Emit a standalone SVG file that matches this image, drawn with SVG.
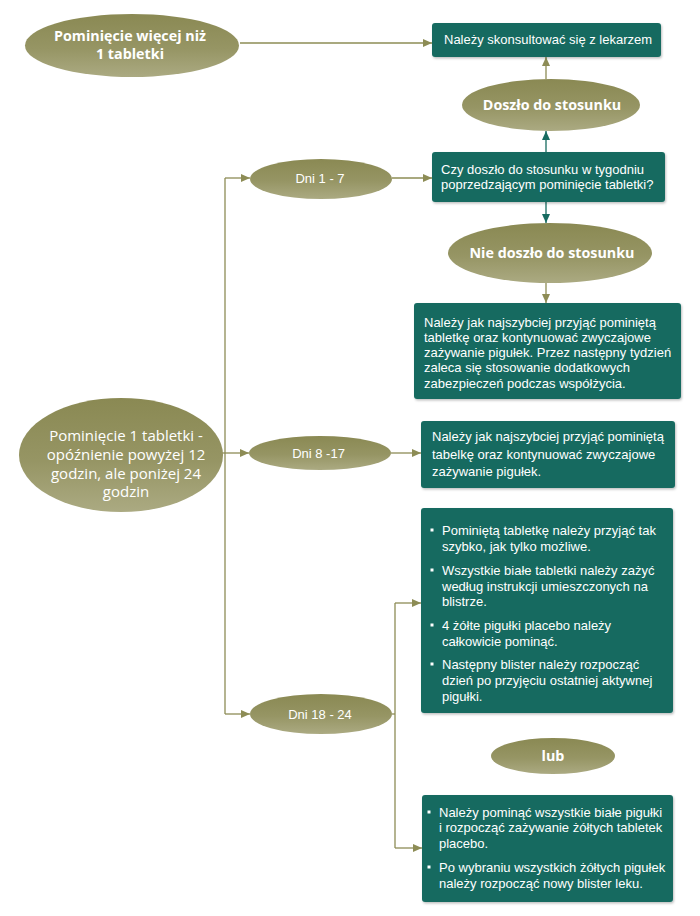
<svg xmlns="http://www.w3.org/2000/svg" width="700" height="916" viewBox="0 0 700 916">
<style>
.ell{fill:url(#olive)}
.box{fill:#176b60;filter:url(#sh)}
.tb{font-family:"Open Sans","DejaVu Sans",sans-serif;font-weight:bold;font-size:14.3px;fill:#fff;text-anchor:middle}
.tr{font-family:"Open Sans","DejaVu Sans",sans-serif;font-size:15px;fill:#fff;text-anchor:middle}
.td{font-family:"Liberation Sans",Arial,sans-serif;font-size:13px;fill:#fff;text-anchor:middle}
.t{font-family:"Liberation Sans",Arial,sans-serif;font-size:13px;fill:#fff}
.bul{fill:#fff}
.c{fill:none;stroke:#8d8c55;stroke-width:1.3}
.ct{fill:none;stroke:#176b60;stroke-width:1.3}
</style>
<defs>
<linearGradient id="olive" x1="0" y1="0" x2="0" y2="1">
<stop offset="0" stop-color="#8a8953"/>
<stop offset="0.55" stop-color="#969564"/>
<stop offset="1" stop-color="#abaa82"/>
</linearGradient>
<filter id="sh" x="-5%" y="-5%" width="110%" height="115%">
<feDropShadow dx="1" dy="1.5" stdDeviation="1.2" flood-color="#000" flood-opacity="0.25"/>
</filter>
<marker id="ao" markerUnits="userSpaceOnUse" markerWidth="9" markerHeight="8" refX="9" refY="4" orient="auto">
<path d="M0,0 L9,4 L0,8 z" fill="#8d8c55"/>
</marker>
<marker id="at" markerUnits="userSpaceOnUse" markerWidth="9" markerHeight="8" refX="9" refY="4" orient="auto">
<path d="M0,0 L9,4 L0,8 z" fill="#176b60"/>
</marker>
</defs>

<g id="connectors">
<path class="c" d="M240,43 H432" marker-end="url(#ao)"/>
<path class="c" d="M546,79 V57" marker-end="url(#ao)"/>
<path class="ct" d="M546,152 V131" marker-end="url(#at)"/>
<path class="ct" d="M546,202 V223" marker-end="url(#at)"/>
<path class="c" d="M546,283 V303" marker-end="url(#ao)"/>
<path class="c" d="M392,178 H432" marker-end="url(#ao)"/>
<path class="c" d="M225,178 V714"/>
<path class="c" d="M222,453 H225"/>
<path class="c" d="M225,178 H250" marker-end="url(#ao)"/>
<path class="c" d="M225,453 H249" marker-end="url(#ao)"/>
<path class="c" d="M225,714 H250" marker-end="url(#ao)"/>
<path class="c" d="M391,453 H421" marker-end="url(#ao)"/>
<path class="c" d="M392,714 H395"/>
<path class="c" d="M395,603 V848"/>
<path class="c" d="M395,603 H421" marker-end="url(#ao)"/>
<path class="c" d="M395,848 H422" marker-end="url(#ao)"/>
</g>

<g id="n-wiecej">
<ellipse class="ell" cx="132" cy="45.5" rx="107" ry="31.5"/>
<text class="tb" x="130" y="41">Pominięcie więcej niż</text>
<text class="tb" x="130" y="59">1 tabletki</text>
</g>

<g id="n-lekarz">
<rect class="box" x="432" y="23" width="229" height="34" rx="3"/>
<text class="t" x="444" y="43.5">Należy skonsultować się z lekarzem</text>
</g>

<g id="n-doszlo">
<ellipse class="ell" cx="551" cy="105" rx="89" ry="26"/>
<text class="tb" x="552" y="110">Doszło do stosunku</text>
</g>

<g id="n-pytanie">
<rect class="box" x="432" y="152" width="233" height="50" rx="3"/>
<text class="t" x="441" y="173.5">Czy doszło do stosunku w tygodniu</text>
<text class="t" x="441" y="188.5">poprzedzającym pominięcie tabletki?</text>
</g>

<g id="n-niedoszlo">
<ellipse class="ell" cx="550" cy="253" rx="102" ry="30"/>
<text class="tb" x="552" y="258">Nie doszło do stosunku</text>
</g>

<g id="n-box3">
<rect class="box" x="414" y="303" width="267" height="96" rx="3"/>
<text class="t" x="424" y="326.5">Należy jak najszybciej przyjąć pominiętą</text>
<text class="t" x="424" y="341.5">tabletkę oraz kontynuować zwyczajowe</text>
<text class="t" x="424" y="357">zażywanie pigułek. Przez następny tydzień</text>
<text class="t" x="424" y="372">zaleca się stosowanie dodatkowych</text>
<text class="t" x="424" y="387.5">zabezpieczeń podczas współżycia.</text>
</g>

<g id="n-dni17">
<ellipse class="ell" cx="321" cy="179" rx="71" ry="20"/>
<text class="td" x="320" y="183">Dni 1 - 7</text>
</g>

<g id="n-main">
<ellipse class="ell" cx="121" cy="455" rx="102" ry="57"/>
<text class="tr" x="126" y="441">Pominięcie 1 tabletki -</text>
<text class="tr" x="126" y="460">opóźnienie powyżej 12</text>
<text class="tr" x="126" y="478.5">godzin, ale poniżej 24</text>
<text class="tr" x="126" y="497">godzin</text>
</g>

<g id="n-dni817">
<ellipse class="ell" cx="320" cy="453" rx="71" ry="17"/>
<text class="td" x="318.5" y="457.5">Dni 8 -17</text>
</g>

<g id="n-box4">
<rect class="box" x="421" y="421" width="254" height="67" rx="3"/>
<text class="t" x="432" y="441">Należy jak najszybciej przyjąć pominiętą</text>
<text class="t" x="432" y="458.5">tabelkę oraz kontynuować zwyczajowe</text>
<text class="t" x="432" y="476">zażywanie pigułek.</text>
</g>

<g id="n-dni1824">
<ellipse class="ell" cx="321" cy="714" rx="71" ry="20"/>
<text class="td" x="320" y="718.5">Dni 18 - 24</text>
</g>

<g id="n-box5">
<rect class="box" x="421" y="508" width="252" height="205" rx="3"/>
<rect class="bul" x="430.5" y="528.5" width="3" height="3"/>
<text class="t" x="442" y="534.5">Pominiętą tabletkę należy przyjąć tak</text>
<text class="t" x="442" y="550.5">szybko, jak tylko możliwe.</text>
<rect class="bul" x="430.5" y="568.5" width="3" height="3"/>
<text class="t" x="442" y="574.5">Wszystkie białe tabletki należy zażyć</text>
<text class="t" x="442" y="590.5">według instrukcji umieszczonych na</text>
<text class="t" x="442" y="605.5">blistrze.</text>
<rect class="bul" x="430.5" y="623.5" width="3" height="3"/>
<text class="t" x="442" y="629.5">4 żółte pigułki placebo należy</text>
<text class="t" x="442" y="645.5">całkowicie pominąć.</text>
<rect class="bul" x="430.5" y="662.5" width="3" height="3"/>
<text class="t" x="442" y="668.5">Następny blister należy rozpocząć</text>
<text class="t" x="442" y="684.5">dzień po przyjęciu ostatniej aktywnej</text>
<text class="t" x="442" y="700.5">pigułki.</text>
</g>

<g id="n-lub">
<ellipse class="ell" cx="553" cy="756" rx="62" ry="18"/>
<text class="tb" x="553" y="761">lub</text>
</g>

<g id="n-box6">
<rect class="box" x="422" y="795" width="251" height="107" rx="3"/>
<rect class="bul" x="427.5" y="810.5" width="3" height="3"/>
<text class="t" x="439" y="816.5">Należy pominąć wszystkie białe pigułki</text>
<text class="t" x="439" y="831.5">i rozpocząć zażywanie żółtych tabletek</text>
<text class="t" x="439" y="847.5">placebo.</text>
<rect class="bul" x="427.5" y="865.5" width="3" height="3"/>
<text class="t" x="439" y="871.5">Po wybraniu wszystkich żółtych pigułek</text>
<text class="t" x="439" y="887.5">należy rozpocząć nowy blister leku.</text>
</g>
</svg>
